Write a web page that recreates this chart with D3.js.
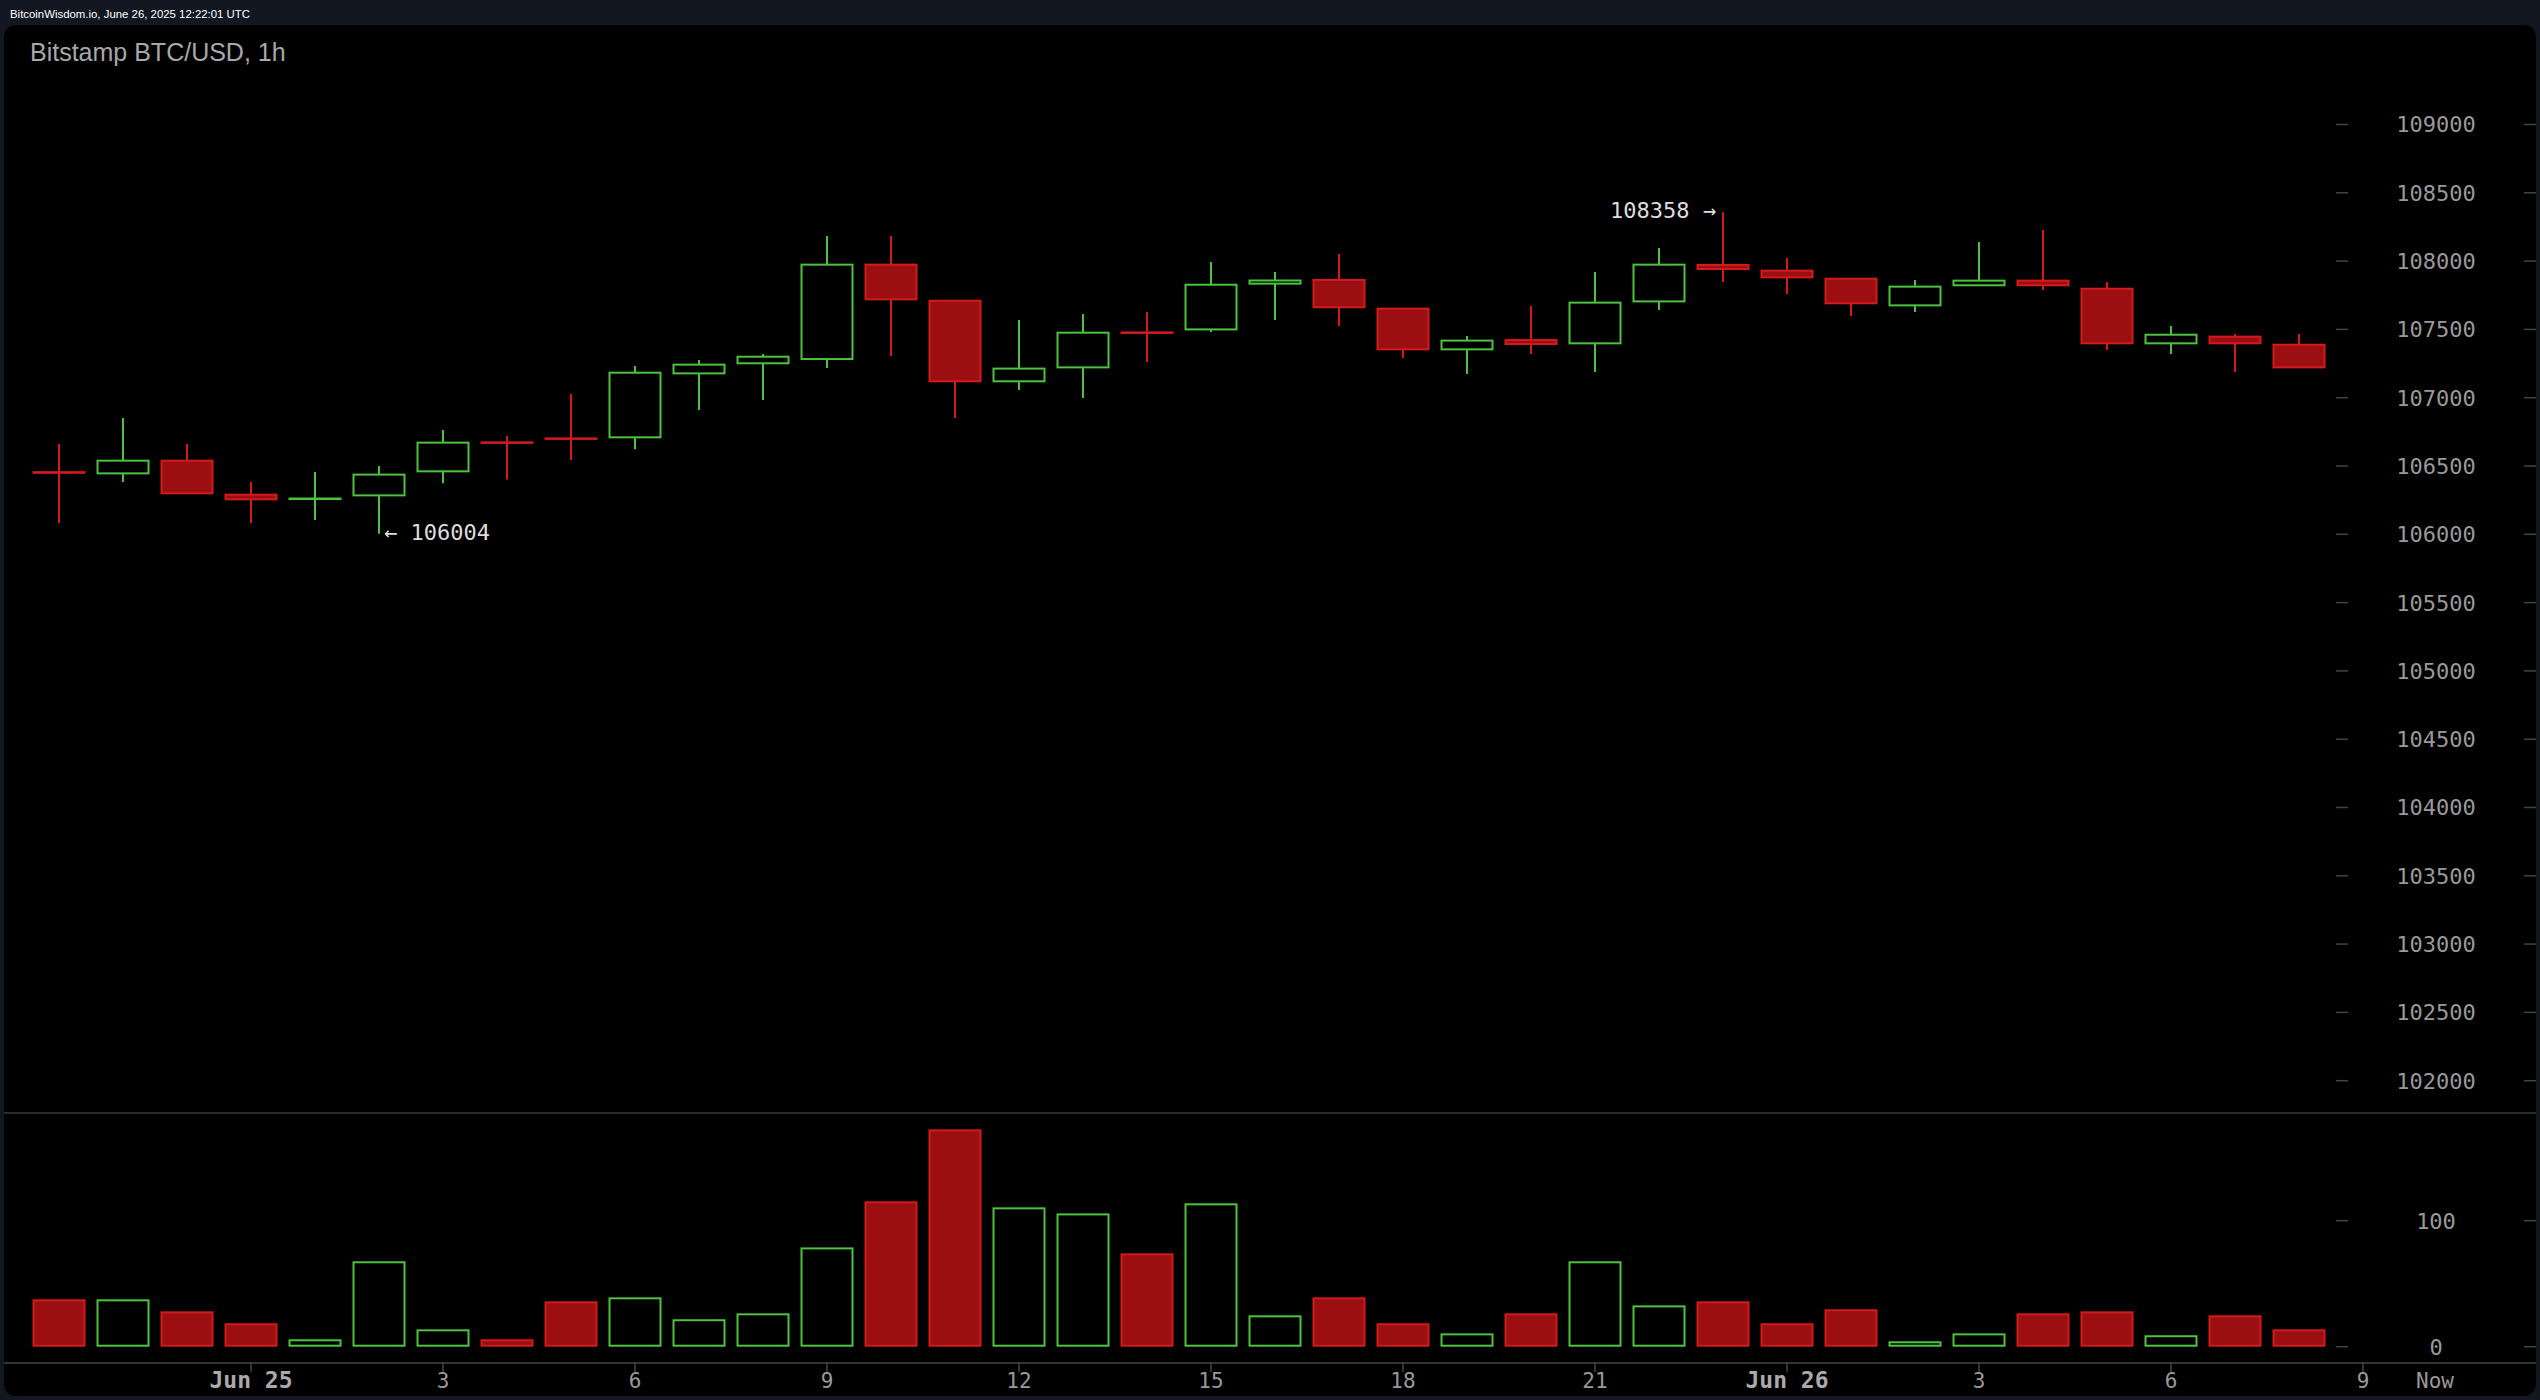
<!DOCTYPE html>
<html><head><meta charset="utf-8">
<script src="https://cdn.jsdelivr.net/npm/d3@7"></script>
<style>html,body{margin:0;padding:0;background:#131722;overflow:hidden}</style>
</head><body>
<svg id="c" width="2540" height="1400"></svg>
<script>
// ---- data (hourly candles, Jun 24 21:00 -> Jun 26 08:00) ----
const opens  = [106455,106446,106539,106290,106258,106285,106461,106673,106702,106710,107178,107252,107283,107974,107710,107120,107222,107478,107500,107835,107862,107652,107354,107422,107398,107705,107972,107930,107871,107676,107823,107857,107798,107398,107447,107388];
const highs  = [106661,106851,106661,106383,106456,106500,106763,106720,107027,107232,107276,107320,108184,108184,107710,107569,107613,107627,107993,107920,108052,107652,107452,107671,107920,108096,108358,108023,107871,107862,108140,108228,107847,107525,107466,107466];
const lows   = [106080,106383,106300,106080,106105,106004,106373,106402,106544,106622,106910,106983,107217,107305,106851,107056,106998,107261,107481,107569,107525,107291,107174,107320,107188,107642,107847,107759,107598,107627,107823,107788,107349,107320,107188,107222];
const closes = [106450,106539,106300,106256,106262,106437,106671,106670,106699,107183,107242,107300,107974,107720,107120,107213,107476,107474,107827,107858,107662,107354,107418,107393,107696,107974,107942,107881,107691,107813,107857,107823,107398,107461,107398,107222];
const volumes = [36.8,36.8,27.3,17.8,5.1,67,13,5.1,35.2,38.4,21,25.7,78,114.6,171.7,109.8,105,73.3,113,24.1,38.4,17.8,9.8,25.7,67,32,35.2,17.8,28.9,3.5,9.8,25.7,27.3,8.3,24.1,13];
const priceTicks = [102000,102500,103000,103500,104000,104500,105000,105500,106000,106500,107000,107500,108000,108500,109000];
const volumeTicks = [0,100];
const timeTickIndex = [3,6,9,12,15,18,21,24,27,30,33,36];
const timeTickLabels = ["Jun 25","3","6","9","12","15","18","21","Jun 26","3","6","9"];
const headerText = "BitcoinWisdom.io, June 26, 2025 12:22:01 UTC";
const titleText = "Bitstamp BTC/USD, 1h";

const GREEN = "#4cc23f", RED_STROKE = "#d41a1c", RED_FILL = "#9b0f12";
const svg = d3.select("#c");

// background panel
svg.append("rect").attr("x",0).attr("y",0).attr("width",2540).attr("height",1400).attr("fill","#131722");
svg.append("rect").attr("x",4).attr("y",25).attr("width",2532).attr("height",1371).attr("rx",12).attr("fill","#000");

svg.append("text").attr("x",10).attr("y",17.5).attr("fill","#fff")
  .style("font-family","Liberation Sans, Arial, sans-serif").style("font-size","11.4px").text(headerText);
svg.append("text").attr("x",30).attr("y",60.5).attr("fill","#a8a8a8")
  .style("font-family","Liberation Sans, Arial, sans-serif").style("font-size","25px").text(titleText);

// scales
const x = d3.scaleLinear().domain([0,35]).range([59,2299]);
const y = d3.scaleLinear().domain([102000,109000]).range([1080.7,124.5]);
const yv = d3.scaleLinear().domain([0,100]).range([1346.7,1220.7]);

const MONO = "DejaVu Sans Mono, monospace";

// separator lines
svg.append("line").attr("x1",4).attr("x2",2536).attr("y1",1113).attr("y2",1113).attr("stroke","#3a3a3a").attr("stroke-width",1.6);
svg.append("line").attr("x1",4).attr("x2",2536).attr("y1",1363).attr("y2",1363).attr("stroke","#444").attr("stroke-width",1.6);

// price axis
const pa = svg.append("g");
priceTicks.forEach(t=>{
  const yy = y(t);
  pa.append("line").attr("x1",2336).attr("x2",2348).attr("y1",yy).attr("y2",yy).attr("stroke","#444").attr("stroke-width",1.5);
  pa.append("line").attr("x1",2524).attr("x2",2536).attr("y1",yy).attr("y2",yy).attr("stroke","#444").attr("stroke-width",1.5);
  pa.append("text").attr("x",2436).attr("y",yy).attr("dy","0.36em").attr("text-anchor","middle")
    .attr("fill","#999").style("font-family",MONO).style("font-size","22px").text(t);
});
// volume axis
volumeTicks.forEach(t=>{
  const yy = yv(t);
  pa.append("line").attr("x1",2336).attr("x2",2348).attr("y1",yy).attr("y2",yy).attr("stroke","#444").attr("stroke-width",1.5);
  pa.append("line").attr("x1",2524).attr("x2",2536).attr("y1",yy).attr("y2",yy).attr("stroke","#444").attr("stroke-width",1.5);
  pa.append("text").attr("x",2436).attr("y",yy).attr("dy","0.36em").attr("text-anchor","middle")
    .attr("fill","#999").style("font-family",MONO).style("font-size","22px").text(t);
});
// time axis
timeTickIndex.forEach((idx,k)=>{
  const xx = x(idx);
  const lab = timeTickLabels[k];
  const big = lab.startsWith("Jun");
  svg.append("line").attr("x1",xx).attr("x2",xx).attr("y1",1363).attr("y2",1372).attr("stroke","#555").attr("stroke-width",1.2);
  svg.append("text").attr("x",xx).attr("y",1380).attr("dy","0.36em").attr("text-anchor","middle")
    .attr("fill",big?"#aaa":"#999").style("font-family",MONO).style("font-weight",big?"bold":"normal")
    .style("font-size",big?"23px":"21px").text(lab);
});
svg.append("text").attr("x",2435).attr("y",1380).attr("dy","0.36em").attr("text-anchor","middle")
  .attr("fill","#999").style("font-family",MONO).style("font-size","21px").text("Now");

// candles
const BW = 51;
const candles = svg.append("g");
opens.forEach((o,i)=>{
  const c = closes[i], up = c >= o;
  const col = up ? GREEN : RED_STROKE;
  const cx = x(i);
  candles.append("line").attr("x1",cx).attr("x2",cx).attr("y1",y(highs[i])).attr("y2",y(lows[i]))
    .attr("stroke",col).attr("stroke-width",2);
  const top = y(Math.max(o,c)), bot = y(Math.min(o,c));
  candles.append("rect").attr("x",cx-BW/2).attr("y",top).attr("width",BW).attr("height",Math.max(bot-top,0.5))
    .attr("fill",up?"#000":RED_FILL).attr("stroke",col).attr("stroke-width",2);
});

// volume bars
const vb = svg.append("g");
volumes.forEach((v,i)=>{
  const up = closes[i] >= opens[i];
  const cx = x(i);
  const top = yv(v), bot = yv(0)-1;
  vb.append("rect").attr("x",cx-BW/2).attr("y",top).attr("width",BW).attr("height",Math.max(bot-top,0.5))
    .attr("fill",up?"#000":RED_FILL).attr("stroke",up?GREEN:RED_STROKE).attr("stroke-width",2);
});

// high / low annotations
const hiIdx = d3.maxIndex(highs), loIdx = d3.minIndex(lows);
svg.append("text").attr("x",x(hiIdx)-7).attr("y",y(highs[hiIdx])-2).attr("dy","0.36em").attr("text-anchor","end")
  .attr("fill","#ddd").style("font-family",MONO).style("font-size","22px").text(highs[hiIdx]+" →");
svg.append("text").attr("x",x(loIdx)+5).attr("y",y(lows[loIdx])-2).attr("dy","0.36em").attr("text-anchor","start")
  .attr("fill","#ddd").style("font-family",MONO).style("font-size","22px").text("← "+lows[loIdx]);
</script>
</body></html>
